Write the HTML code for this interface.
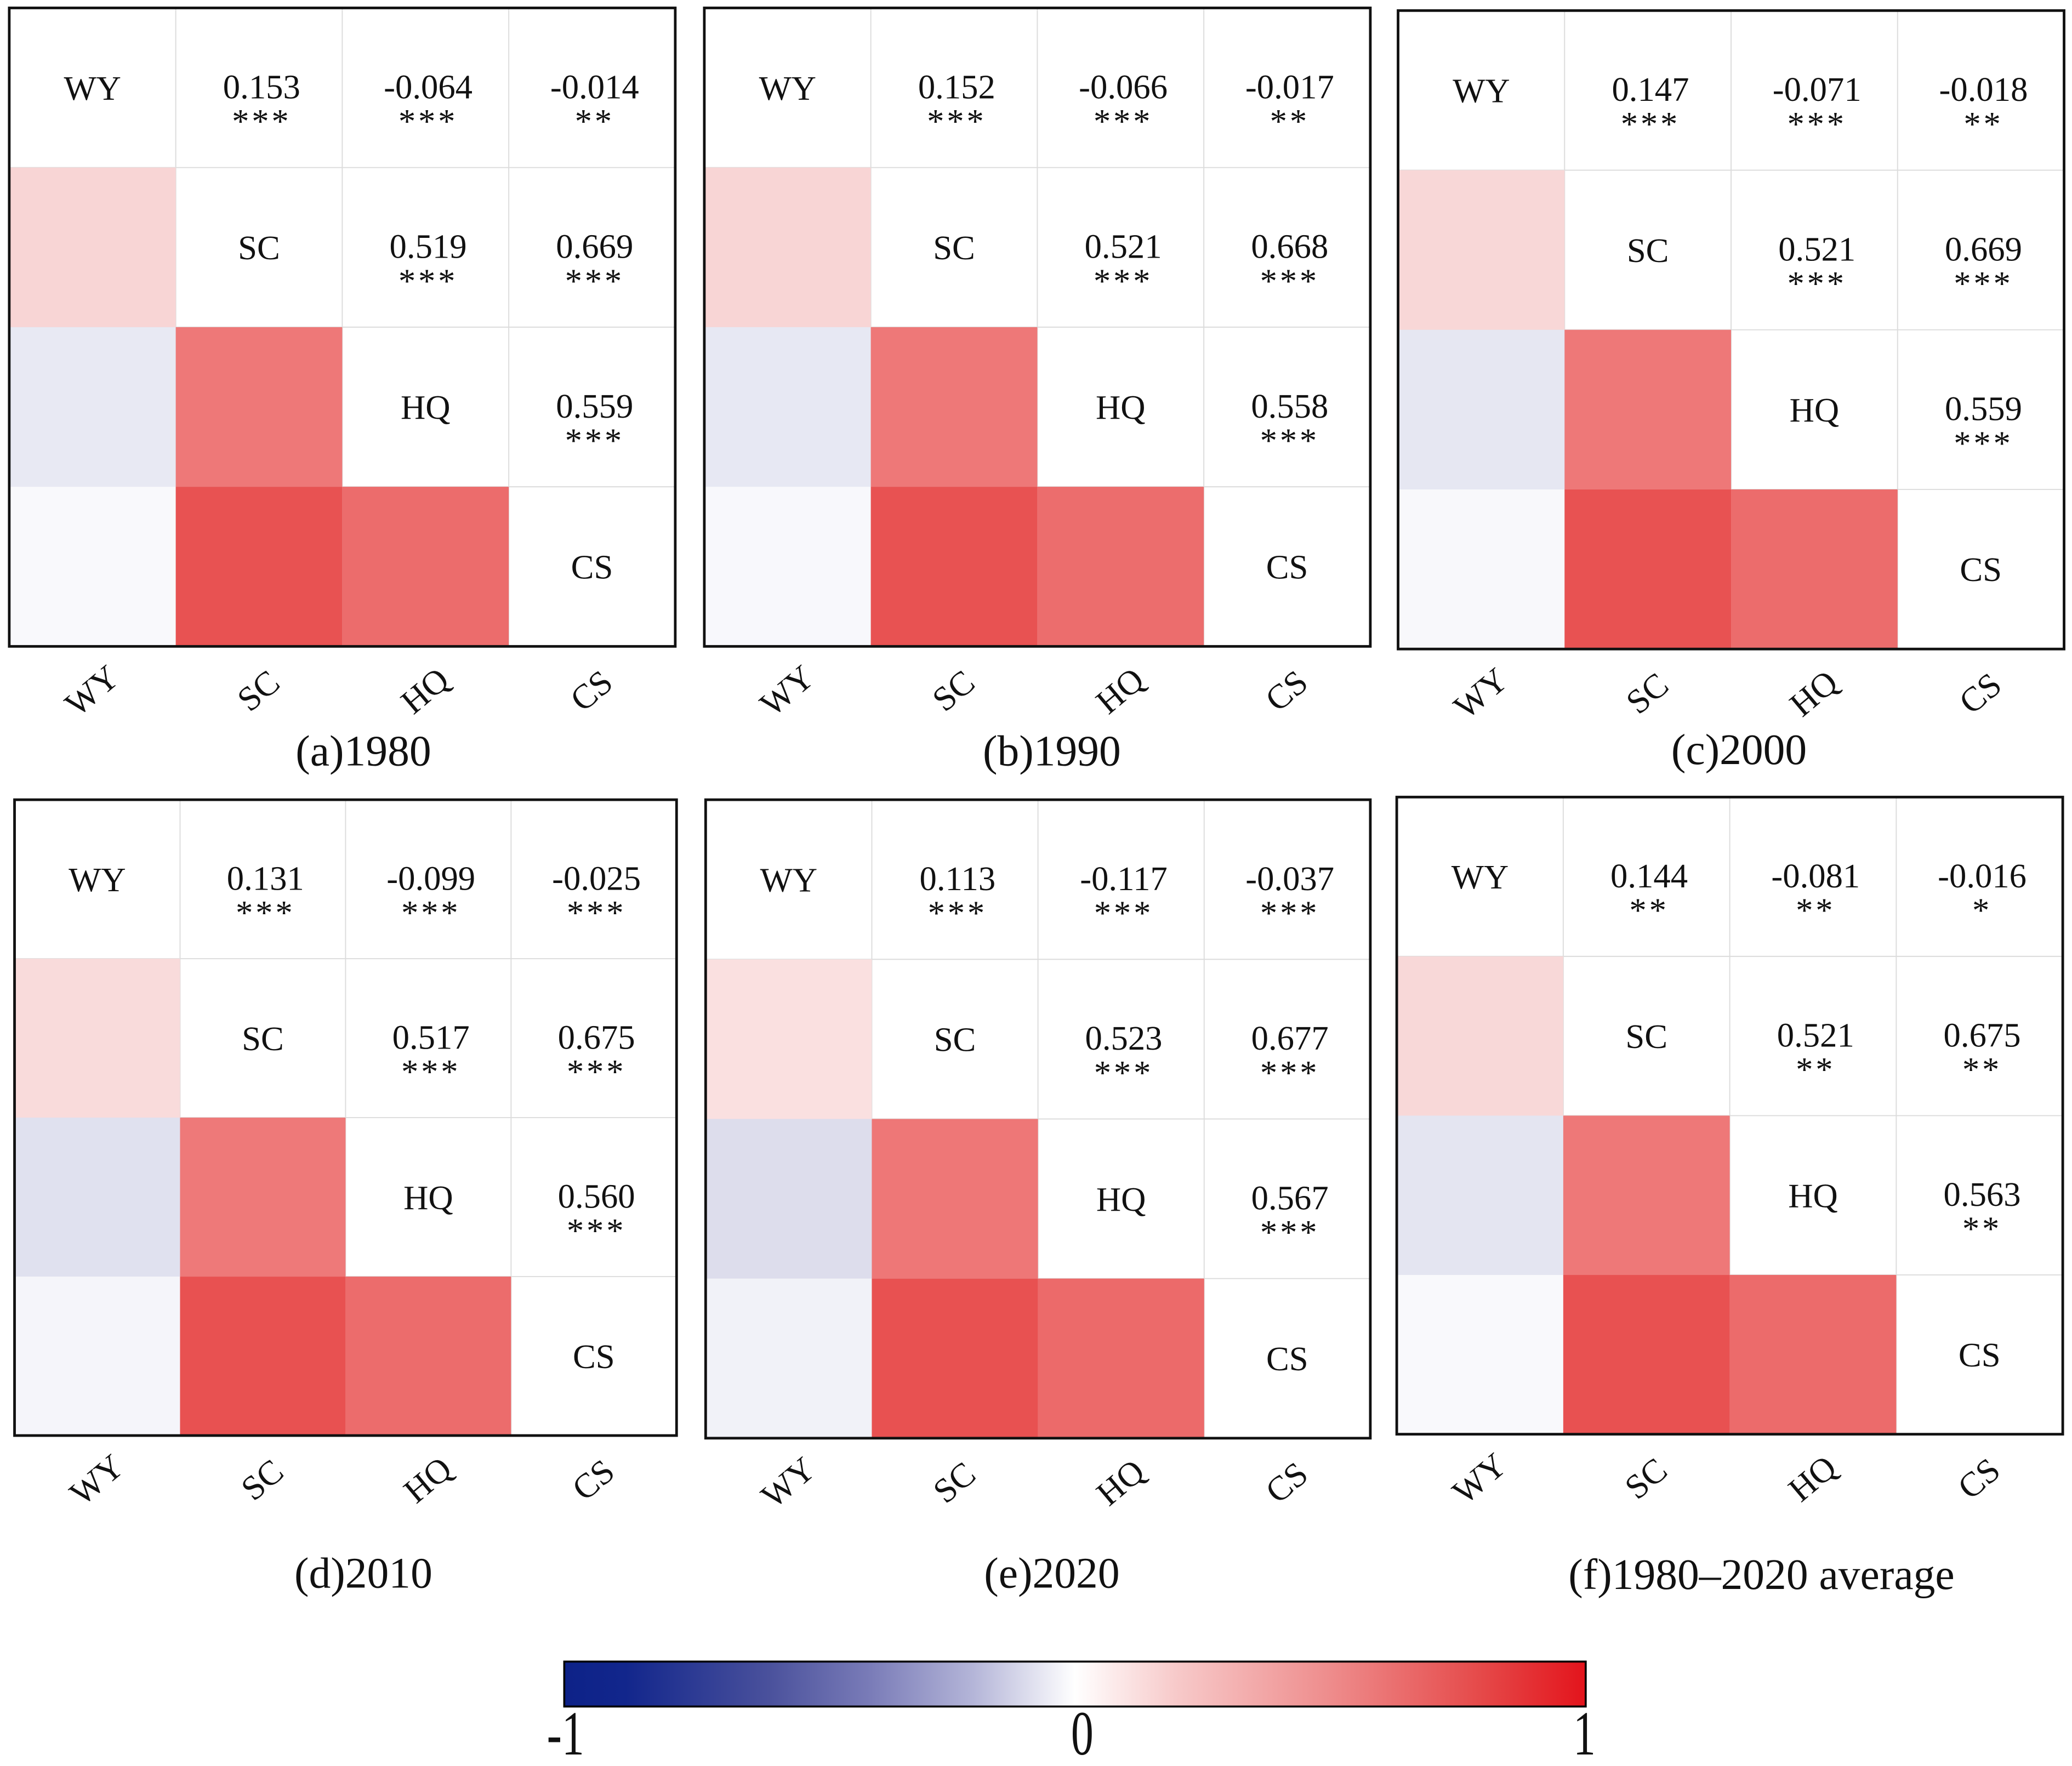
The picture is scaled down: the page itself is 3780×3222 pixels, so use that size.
<!DOCTYPE html>
<html><head><meta charset="utf-8"><style>
html,body{margin:0;padding:0;background:#fff;}
svg{display:block;}
text{font-family:"Liberation Serif",serif;fill:#111;}
</style></head><body>
<svg id="chart" width="3780" height="3222" viewBox="0 0 1568 1336" preserveAspectRatio="none" xmlns="http://www.w3.org/2000/svg">
<defs>
<linearGradient id="cbar" x1="0" x2="1" y1="0" y2="0">
<stop offset="0" stop-color="#0d2288"/>
<stop offset="0.06" stop-color="#12268c"/>
<stop offset="0.2" stop-color="#4a519c"/>
<stop offset="0.3" stop-color="#7a7cb8"/>
<stop offset="0.4" stop-color="#b4b5d8"/>
<stop offset="0.5" stop-color="#ffffff"/>
<stop offset="0.6" stop-color="#f7c9c9"/>
<stop offset="0.75" stop-color="#ee8c8c"/>
<stop offset="0.9" stop-color="#e54848"/>
<stop offset="1" stop-color="#e3141c"/>
</linearGradient>
</defs>
<g id="panels"></g>
<g>
<rect x="427" y="1257" width="773" height="34" fill="url(#cbar)" stroke="#000" stroke-width="1.5"/>
<text x="428" y="948" font-size="34" text-anchor="middle" transform="scale(1,1.4)">-1</text>
<text x="819" y="948" font-size="34" text-anchor="middle" transform="scale(1,1.4)">0</text>
<text x="1199" y="948" font-size="34" text-anchor="middle" transform="scale(1,1.4)">1</text>
</g>
</svg>
<script>
const variables = ["WY","SC","HQ","CS"];
const panelTitles = ["(a)1980","(b)1990","(c)2000","(d)2010","(e)2020","(f)1980–2020 average"];
// pair order: WY-SC, WY-HQ, WY-CS, SC-HQ, SC-CS, HQ-CS
const values1980 = [0.153,-0.064,-0.014,0.519,0.669,0.559];
const values1990 = [0.152,-0.066,-0.017,0.521,0.668,0.558];
const values2000 = [0.147,-0.071,-0.018,0.521,0.669,0.559];
const values2010 = [0.131,-0.099,-0.025,0.517,0.675,0.560];
const values2020 = [0.113,-0.117,-0.037,0.523,0.677,0.567];
const valuesAvg  = [0.144,-0.081,-0.016,0.521,0.675,0.563];
const stars1980 = ["***","***","**","***","***","***"];
const stars1990 = ["***","***","**","***","***","***"];
const stars2000 = ["***","***","**","***","***","***"];
const stars2010 = ["***","***","***","***","***","***"];
const stars2020 = ["***","***","***","***","***","***"];
const starsAvg  = ["**","**","*","**","**","**"];

const allValues=[values1980,values1990,values2000,values2010,values2020,valuesAvg];
const allStars=[stars1980,stars1990,stars2000,stars2010,stars2020,starsAvg];
const boxes=[[7,6,504,483],[533,6,504,483],[1058,8,504,483],[11,605,501,481],[534,605,503,483],[1057,603,504,482]];
const titleY=[568,568,567,1190,1190,1191];
const titleX=[275,796,1316,275,796,1333];
const pairs=[[0,1],[0,2],[0,3],[1,2],[1,3],[2,3]];

function hex(c){return c.map(v=>Math.round(v).toString(16).padStart(2,'0')).join('');}
function parse(h){return [parseInt(h.substr(1,2),16),parseInt(h.substr(3,2),16),parseInt(h.substr(5,2),16)];}
const posStops=[[0,"#ffffff"],[0.15,"#f8d6d6"],[0.52,"#ee7878"],[0.56,"#ec6c6c"],[0.67,"#e85252"],[1,"#e3141c"]];
const negStops=[[0,"#ffffff"],[0.02,"#f7f7fb"],[0.07,"#e6e7f2"],[0.12,"#dcdcec"],[0.5,"#8a8cc0"],[1,"#0d2288"]];
function color(v){
  const st=v>=0?posStops:negStops; const a=Math.abs(v);
  for(let i=1;i<st.length;i++){ if(a<=st[i][0]){const t=(a-st[i-1][0])/(st[i][0]-st[i-1][0]);const c1=parse(st[i-1][1]),c2=parse(st[i][1]);return '#'+hex(c1.map((x,k)=>x+(c2[k]-x)*t));}}
  return st[st.length-1][1];
}
const NS="http://www.w3.org/2000/svg";
const root=document.getElementById('panels');
function el(tag,attrs,parent,txt){const e=document.createElementNS(NS,tag);for(const k in attrs)e.setAttribute(k,attrs[k]);if(txt!==undefined)e.textContent=txt;parent.appendChild(e);return e;}

boxes.forEach((b,p)=>{
  const g=el('g',{},root);
  
  
  const [x0,y0,w,h]=b; const cw=w/4, ch=h/4;
  const vals=allValues[p], stars=allStars[p];
  for(let i=1;i<4;i++){
    el('line',{x1:x0+i*cw,x2:x0+i*cw,y1:y0,y2:y0+h,stroke:'#dcdcdc','stroke-width':0.8},g);
    el('line',{x1:x0,x2:x0+w,y1:y0+i*ch,y2:y0+i*ch,stroke:'#dcdcdc','stroke-width':0.8},g);
  }
  pairs.forEach((pr,k)=>{
    const [i,j]=pr;
    const r=el('rect',{x:x0+i*cw,y:y0+j*ch,width:cw,height:ch,fill:color(vals[k])},g);
    
    
    const cx=x0+(j+0.5)*cw+2, cy=y0+(i+0.5)*ch;
    const t=el('text',{x:cx,y:cy+8,'font-size':26,'text-anchor':'middle'},g,vals[k].toFixed(3));
    
    
    const s=el('text',{x:cx,y:cy+34,'font-size':26,'text-anchor':'middle','letter-spacing':'2'},g,stars[k]);
    
    
  });
  variables.forEach((v,i)=>{
    const d=el('text',{x:x0+(i+0.5)*cw,y:y0+(i+0.5)*ch+9,'font-size':26,'text-anchor':'middle'},g,v);
    
    
    const tx=x0+(i+0.5)*cw, ty=y0+h+42;
    const l=el('text',{x:tx,y:ty,'font-size':26,'text-anchor':'middle',transform:'rotate(-40 '+tx+' '+(ty-8)+')'},g,v);
    
    
  });
  el('rect',{x:x0,y:y0,width:w,height:h,fill:'none',stroke:'#111','stroke-width':2},g);
  const tt=el('text',{x:titleX[p],y:titleY[p]+11,'font-size':33,'text-anchor':'middle'},g,panelTitles[p]);
  
  
});
</script>
</body></html>
